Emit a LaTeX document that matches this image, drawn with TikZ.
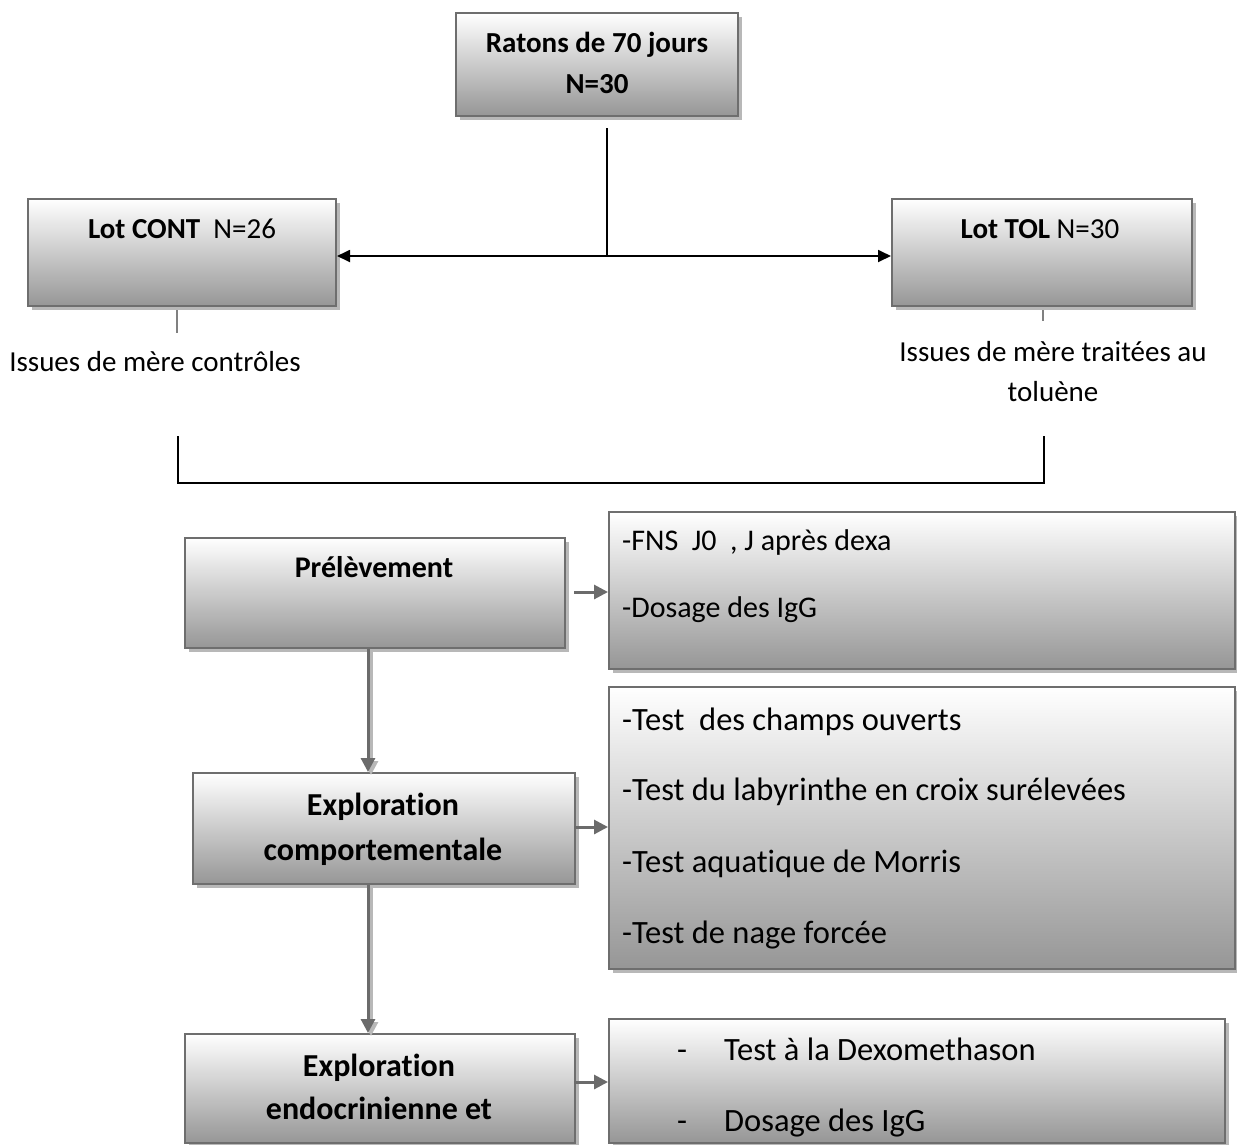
\documentclass[tikz,border=0pt]{standalone}
\usepackage{fontspec}
\setmainfont{Carlito}[Ligatures=NoCommon]
\usetikzlibrary{arrows.meta,shadows}
\definecolor{bordergray}{HTML}{6E6E6E}
\definecolor{arrowgray}{HTML}{6B6B6B}
\definecolor{shadowgray}{HTML}{B8B8B8}
\definecolor{botgray}{HTML}{969696}
\definecolor{ticgray}{HTML}{808080}
\begin{document}
\begin{tikzpicture}[x=1pt,y=-1pt,
  font=\fontsize{29}{35}\selectfont,
  box/.style={draw=bordergray, line width=2pt, top color=white, bottom color=botgray,
    inner sep=0pt, anchor=north west,
    drop shadow={shadow xshift=4pt, shadow yshift=-4pt, fill=shadowgray, opacity=1}},
  lbl/.style={anchor=base, inner sep=0pt},
  lbll/.style={anchor=base west, inner sep=0pt},
  bold/.style={font=\fontsize{29}{35}\selectfont\bfseries},
  fs/.style={font=\fontsize{#1}{35}\selectfont},
  fsb/.style={font=\fontsize{#1}{35}\selectfont\bfseries},
  blk/.style={line width=1.8pt, black},
  blkarrow/.style={blk, -{Triangle[length=13pt,width=12pt]}},
  tic/.style={line width=2pt, ticgray},
  gry/.style={line width=3pt, arrowgray},
  gryarrow/.style={gry, -{Triangle[length=14pt,width=14pt]}},
  gryshadow/.style={line width=3pt, shadowgray, -{Triangle[length=14pt,width=14pt]}, transform canvas={xshift=3pt,yshift=-3pt}},
]
\useasboundingbox (0,0) rectangle (1237,1144);
\clip (0,0) rectangle (1237,1144);

% boxes
\node[box, minimum width=282pt, minimum height=103pt] (top) at (455,12) {};
\node[box, minimum width=308pt, minimum height=107pt] (cont) at (27,198) {};
\node[box, minimum width=300pt, minimum height=107pt] (tol) at (891,198) {};
\node[box, minimum width=380pt, minimum height=110pt] (prel) at (184,537) {};
\node[box, minimum width=626pt, minimum height=157pt] (r1) at (608,511) {};
\node[box, minimum width=382pt, minimum height=111pt] (comp) at (192,772) {};
\node[box, minimum width=626pt, minimum height=282pt] (r2) at (608,686) {};
\node[box, minimum width=390pt, minimum height=109pt] (endo) at (184,1033) {};
\node[box, minimum width=616pt, minimum height=124pt] (r3) at (608,1018) {};

% texts
\node[lbl, bold] (t1) at (597,52) {Ratons de 70 jours};
\node[lbl, bold] (t2) at (597,93) {N=30};
\node[lbl] (tc) at (182,238) {{\bfseries Lot CONT}\ \ N=26};
\node[lbl] (tt) at (1040,238) {{\bfseries Lot TOL} N=30};
\node[lbl] (ic) at (155,371) {Issues de mère contrôles};
\node[lbl] (it1) at (1053,361) {Issues de mère traitées au};
\node[lbl] (it2) at (1053,401) {toluène};
\node[lbl, fsb=30] (tp) at (374,577) {Prélèvement};
\node[lbll, fs=30] (a1) at (622,550) {-FNS\ \ J0\ \ , J après dexa};
\node[lbll, fs=30] (a2) at (622,617) {-Dosage des IgG};
\node[lbl, fsb=32] (te1) at (383,815) {Exploration};
\node[lbl, fsb=32] (te2) at (383,860) {comportementale};
\node[lbll, fs=32.5] (b1) at (622,730) {-Test\ \ des champs ouverts};
\node[lbll, fs=32.5] (b2) at (622,800) {-Test du labyrinthe en croix surélevées};
\node[lbll, fs=32.5] (b3) at (622,872) {-Test aquatique de Morris};
\node[lbll, fs=32.5] (b4) at (622,943) {-Test de nage forcée};
\node[lbl, fsb=32] (tn1) at (379,1076) {Exploration};
\node[lbl, fsb=32] (tn2) at (379,1119) {endocrinienne et};
\begin{scope}
\clip (609,1019) rectangle (1223,1141);
\node[lbll, fs=32.5] (d1) at (677,1060) {-};
\node[lbll, fs=32.5] (c1) at (724,1060) {Test à la Dexomethason};
\node[lbll, fs=32.5] (d2) at (677,1131) {-};
\node[lbll, fs=32.5] (c2) at (724,1131) {Dosage des IgG};
\end{scope}

% black connectors
\coordinate (ts) at (607,128);
\coordinate (j) at (607,256);
\draw[blk] (ts) -- (j);
\draw[blkarrow] (j) -- (j -| cont.east);
\draw[blkarrow] (j) -- (j -| tol.west);

% small ticks under lots
\coordinate (k1) at (177,333);
\coordinate (k2) at (1043,321);
\draw[tic] ([yshift=-3pt]cont.south -| k1) -- (k1);
\draw[tic] ([yshift=-3pt]tol.south -| k2) -- (k2);

% bracket
\coordinate (bl) at (178,436);
\coordinate (br) at (1044,436);
\draw[blk] (bl) -- ++(0,47) -| (br);

% gray connectors
\coordinate (vx) at (368,0);
\coordinate (e1) at (574,592);
\coordinate (e2) at (574,827);
\coordinate (e3) at (574,1082);
\draw[gryarrow] (e1) -- (e1 -| r1.west);
\draw[gryarrow] (e2) -- (e2 -| r2.west);
\draw[gryarrow] (e3) -- (e3 -| r3.west);
\draw[gryshadow] (prel.south -| vx) -- (comp.north -| vx);
\draw[gryshadow] (comp.south -| vx) -- (endo.north -| vx);
\draw[gryarrow] (prel.south -| vx) -- (comp.north -| vx);
\draw[gryarrow] (comp.south -| vx) -- (endo.north -| vx);
\end{tikzpicture}
\end{document}
